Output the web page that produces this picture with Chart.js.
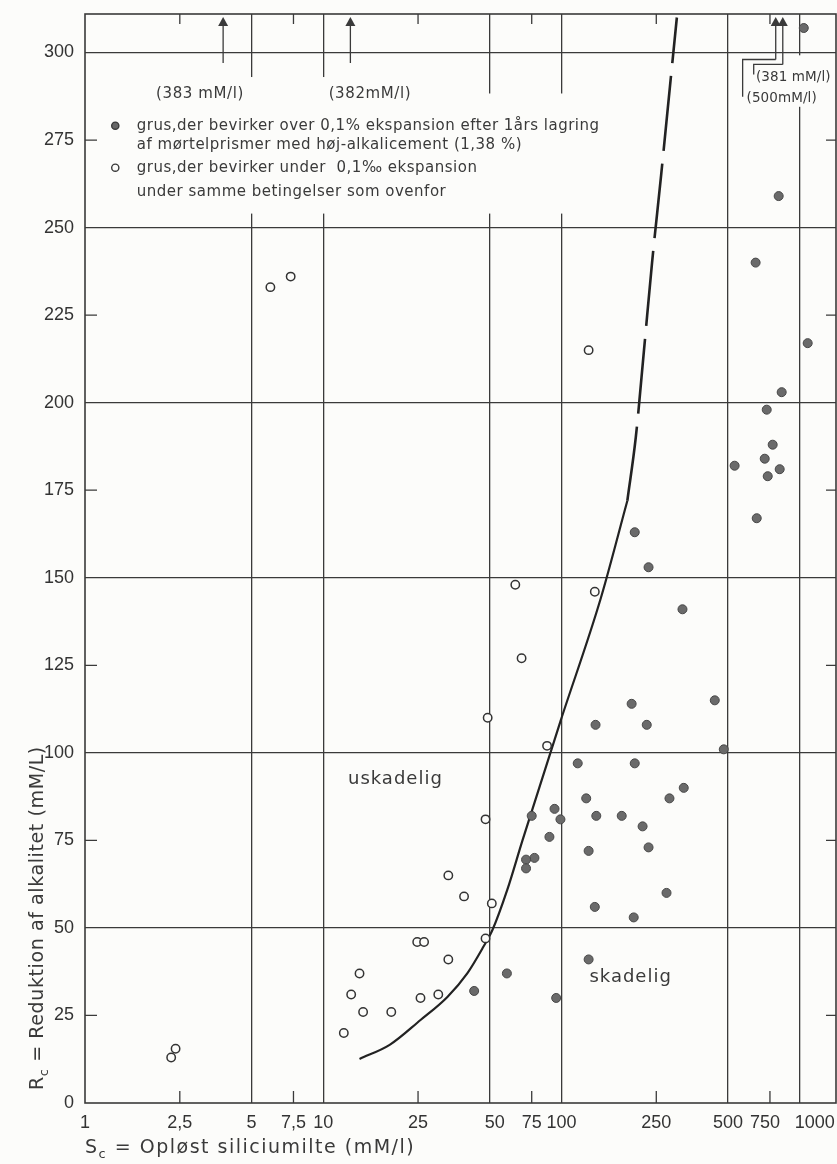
<!DOCTYPE html>
<html>
<head>
<meta charset="utf-8">
<script src="https://cdn.jsdelivr.net/npm/chart.js@4/dist/chart.umd.min.js"></script>
<style>
  body { margin: 0; background: #fcfcfa; }
  #wrap { width: 837px; height: 1164px; }
</style>
</head>
<body>
<div id="wrap"><canvas id="myChart" width="837" height="1164"></canvas></div>
<script>
// grus der bevirker over 0,1% ekspansion (fyldte punkter)
const harmfulX = [1040, 816, 653, 1080, 840, 727, 770, 713, 533, 824, 734, 660, 203, 232, 322, 440, 197, 139, 228, 480,
  117, 203, 326, 284, 127, 93.5, 75, 99, 140, 179, 219, 89, 130, 232, 77, 71, 71, 276, 138, 201, 130, 59, 43, 95];
const harmfulY = [307, 259, 240, 217, 203, 198, 188, 184, 182, 181, 179, 167, 163, 153, 141, 115, 114, 108, 108, 101,
  97, 97, 90, 87, 87, 84, 82, 81, 82, 82, 79, 76, 72, 73, 70, 69.5, 67, 60, 56, 53, 41, 37, 32, 30];

// grus der bevirker under 0,1‰ ekspansion (aabne punkter)
const harmlessX = [2.3, 2.4, 6.0, 7.3, 130, 64, 138, 68, 49, 87, 48, 33.5, 39, 51, 48, 24.8, 26.5, 33.5, 14.2, 13.1,
  25.6, 30.4, 14.7, 19.3, 12.2];
const harmlessY = [13, 15.5, 233, 236, 215, 148, 146, 127, 110, 102, 81, 65, 59, 57, 47, 46, 46, 41, 37, 31,
  30, 31, 26, 26, 20];

// graensekurve, fuldt optrukket og stiplet
const curveX = [14.2, 19, 25.6, 33.2, 40.3, 47, 51.3, 59.3, 68.6, 99, 146, 189];
const curveY = [12.6, 16.6, 23.7, 30.3, 37.1, 44.6, 49.4, 61, 75, 109, 144, 172];
const dashX = [189, 205, 222, 240, 262, 285, 305];
const dashY = [172, 190, 215, 240, 265, 290, 310];

// akser
const xTickValues = [1, 2.5, 5, 7.5, 10, 25, 50, 75, 100, 250, 500, 750, 1000];
const xGridValues = [5, 10, 50, 100, 500, 1000];
const xMinorValues = [2.5, 7.5, 25, 75, 250, 750];
const yTickValues = [0, 25, 50, 75, 100, 125, 150, 175, 200, 225, 250, 275, 300];
const yGridValues = [50, 100, 150, 200, 250, 300];
const yMinorValues = [25, 75, 125, 175, 225, 275];

// punkter uden for skalaen (pile)
const offLeftX = [3.8, 13.0];
const offLeftLabels = ["(383 mM/l)", "(382mM/l)"];
const offRightX = [793, 849];
const offRightLabels = ["(500mM/l)", "(381 mM/l)"];

const legendLines = [
  ["grus,der bevirker over 0,1% ekspansion efter 1års lagring", "af mørtelprismer med høj-alkalicement (1,38 %)"],
  ["grus,der bevirker under  0,1‰ ekspansion", "under samme betingelser som ovenfor"]
];
const yTitle = ["R", "c", " = Reduktion af alkalitet (mM/L)"];
const xTitle = ["S", "c", " = Opløst siliciumilte (mM/l)"];

const paper = "#fcfcfa";
const ink = "#3a3a3a";
const txtFont = "'DejaVu Sans', sans-serif";
const fig = "\u2007";

const toPoints = (xs, ys) => xs.map((v, i) => ({ x: v, y: ys[i] }));

function arrowUp(ctx, px, pyTop, pyBottom) {
  ctx.beginPath();
  ctx.moveTo(px, pyBottom);
  ctx.lineTo(px, pyTop + 8);
  ctx.stroke();
  ctx.beginPath();
  ctx.moveTo(px, pyTop);
  ctx.lineTo(px - 5, pyTop + 9);
  ctx.lineTo(px + 5, pyTop + 9);
  ctx.closePath();
  ctx.fill();
}

function drawSub(ctx, parts, size, spacing) {
  // tekst med saenket c
  let x = 0;
  ctx.letterSpacing = spacing + "px";
  ctx.font = size + "px " + txtFont;
  ctx.fillText(parts[0], x, 0);
  x += ctx.measureText(parts[0]).width;
  ctx.font = Math.round(size * 0.7) + "px " + txtFont;
  ctx.fillText(parts[1], x, 5);
  x += ctx.measureText(parts[1]).width;
  ctx.font = size + "px " + txtFont;
  ctx.fillText(parts[2], x, 0);
  ctx.letterSpacing = "0px";
}

const drawing = {
  id: "drawing",
  beforeDatasetsDraw(chart) {
    const { ctx, chartArea: a, scales: { x, y } } = chart;
    ctx.save();
    // huller i gitteret bag teksterne
    ctx.fillStyle = paper;
    const gaps = [[1.15, 230, 254, 288.3], [4.3, 14, 288, 293], [950, 1060, 284.5, 299.2]];
    gaps.forEach(g => {
      const x1 = x.getPixelForValue(g[0]), x2 = x.getPixelForValue(g[1]);
      const y1 = y.getPixelForValue(g[3]), y2 = y.getPixelForValue(g[2]);
      ctx.fillRect(x1, y1, x2 - x1, y2 - y1);
    });
    ctx.strokeStyle = ink;
    ctx.lineWidth = 1.3;
    ctx.beginPath();
    xMinorValues.forEach(v => {
      const px = x.getPixelForValue(v);
      ctx.moveTo(px, a.bottom); ctx.lineTo(px, a.bottom - 12);
      ctx.moveTo(px, a.top); ctx.lineTo(px, a.top + 10);
    });
    yMinorValues.forEach(v => {
      const py = y.getPixelForValue(v);
      ctx.moveTo(a.left, py); ctx.lineTo(a.left + 12, py);
      ctx.moveTo(a.right, py); ctx.lineTo(a.right - 10, py);
    });
    ctx.stroke();
    ctx.lineWidth = 1.6;
    ctx.strokeRect(a.left, a.top, a.right - a.left, a.bottom - a.top);
    ctx.restore();
  },
  afterDatasetsDraw(chart) {
    const { ctx, chartArea: a, scales: { x, y } } = chart;
    ctx.save();
    ctx.strokeStyle = ink;
    ctx.fillStyle = ink;
    ctx.lineWidth = 1.3;
    const top = a.top + 3;

    // pile til venstre
    offLeftX.forEach(v => arrowUp(ctx, x.getPixelForValue(v), top, y.getPixelForValue(297)));
    ctx.letterSpacing = "0.6px";
    ctx.font = "15px " + txtFont;
    ctx.textAlign = "center";
    ctx.textBaseline = "middle";
    ctx.fillText(offLeftLabels[0], x.getPixelForValue(3.04), y.getPixelForValue(288));
    ctx.fillText(offLeftLabels[1], x.getPixelForValue(15.7), y.getPixelForValue(288));

    // pile til hoejre med knaek
    const bendY = [298, 296.6];
    const footX = [576, 641];
    const footY = [287.4, 293.7];
    offRightX.forEach((v, i) => {
      const px = x.getPixelForValue(v);
      arrowUp(ctx, px, top, y.getPixelForValue(bendY[i]));
      ctx.beginPath();
      ctx.moveTo(px, y.getPixelForValue(bendY[i]));
      ctx.lineTo(x.getPixelForValue(footX[i]), y.getPixelForValue(bendY[i]));
      ctx.lineTo(x.getPixelForValue(footX[i]), y.getPixelForValue(footY[i]));
      ctx.stroke();
    });
    ctx.textAlign = "left";
    ctx.letterSpacing = "0.1px";
    ctx.font = "13.5px " + txtFont;
    ctx.fillText(offRightLabels[1], x.getPixelForValue(655), y.getPixelForValue(293));
    ctx.fillText(offRightLabels[0], x.getPixelForValue(598), y.getPixelForValue(287));

    // signaturforklaring
    const legendY = [[279.1, 273.7], [267.1, 260]];
    legendLines.forEach((lines, i) => {
      const mx = x.getPixelForValue(1.34), my = y.getPixelForValue(legendY[i][0]);
      ctx.beginPath();
      ctx.arc(mx, my, 3.6, 0, Math.PI * 2);
      if (i === 0) { ctx.fillStyle = "#666"; ctx.fill(); ctx.fillStyle = ink; }
      ctx.lineWidth = 1.4;
      ctx.stroke();
      ctx.letterSpacing = "0.5px";
      ctx.font = "15px " + txtFont;
      lines.forEach((t, j) => ctx.fillText(t, x.getPixelForValue(1.65), y.getPixelForValue(legendY[i][j])));
    });

    // omraadebetegnelser
    ctx.letterSpacing = "1px";
    ctx.font = "18px " + txtFont;
    ctx.fillText("uskadelig", x.getPixelForValue(12.7), y.getPixelForValue(92.3));
    ctx.fillText("skadelig", x.getPixelForValue(131), y.getPixelForValue(36));
    ctx.letterSpacing = "0px";

    // aksetitler
    ctx.textBaseline = "alphabetic";
    ctx.save();
    ctx.translate(43, 1090);
    ctx.rotate(-Math.PI / 2);
    drawSub(ctx, yTitle, 19, 0.6);
    ctx.restore();
    ctx.save();
    ctx.translate(a.left, 1153);
    drawSub(ctx, xTitle, 19, 1.5);
    ctx.restore();
    ctx.restore();
  }
};

// etiketterne ved 50, 750 og 1000 er flyttet lidt som paa forlaegget
const xLabel = v => {
  const s = String(v).replace(".", ",");
  if (v === 1000) return fig + fig + fig + s;
  if (v === 750) return s + fig;
  if (v === 50) return fig + s;
  return s;
};

const ctx = document.getElementById("myChart").getContext("2d");
const chart = new Chart(ctx, {
  type: "scatter",
  data: {
    datasets: [
      {
        label: "skadelig",
        data: toPoints(harmfulX, harmfulY),
        pointRadius: 4.5,
        pointBackgroundColor: "#6a6a6a",
        pointBorderColor: "#474747",
        pointBorderWidth: 1
      },
      {
        label: "uskadelig",
        data: toPoints(harmlessX, harmlessY),
        pointRadius: 4.2,
        pointBackgroundColor: paper,
        pointBorderColor: "#333",
        pointBorderWidth: 1.5
      },
      {
        label: "grænse",
        data: toPoints(curveX, curveY),
        showLine: true,
        pointRadius: 0,
        borderColor: "#222",
        borderWidth: 2.2,
        cubicInterpolationMode: "monotone"
      },
      {
        label: "grænse (stiplet)",
        data: toPoints(dashX, dashY),
        showLine: true,
        pointRadius: 0,
        borderColor: "#222",
        borderWidth: 2.6,
        borderDash: [75, 13],
        cubicInterpolationMode: "monotone"
      }
    ]
  },
  options: {
    responsive: false,
    animation: false,
    layout: { autoPadding: false, padding: { top: 14, right: 1, left: 0, bottom: 0 } },
    plugins: { legend: { display: false }, tooltip: { enabled: false } },
    scales: {
      x: {
        type: "logarithmic",
        min: 1,
        max: 1420,
        afterBuildTicks: s => { s.ticks = xTickValues.map(v => ({ value: v })); },
        afterFit: s => { s.height = 61; s.paddingLeft = 0; s.paddingRight = 0; },
        border: { display: false },
        grid: {
          drawTicks: false,
          lineWidth: 1.3,
          color: c => (c.tick && xGridValues.includes(c.tick.value)) ? ink : "transparent"
        },
        ticks: {
          autoSkip: false,
          maxRotation: 0,
          padding: 9,
          color: "#333",
          font: { family: "'Liberation Sans', sans-serif", size: 18 },
          callback: xLabel
        }
      },
      y: {
        min: 0,
        max: 311,
        afterBuildTicks: s => { s.ticks = yTickValues.map(v => ({ value: v })); },
        afterFit: s => { s.width = 85; s.paddingTop = 0; s.paddingBottom = 0; },
        border: { display: false },
        grid: {
          drawTicks: false,
          lineWidth: 1.3,
          color: c => (c.tick && yGridValues.includes(c.tick.value)) ? ink : "transparent"
        },
        ticks: {
          padding: 11,
          color: "#333",
          font: { family: "'Liberation Sans', sans-serif", size: 18 }
        }
      }
    }
  },
  plugins: [drawing]
});
</script>
</body>
</html>
